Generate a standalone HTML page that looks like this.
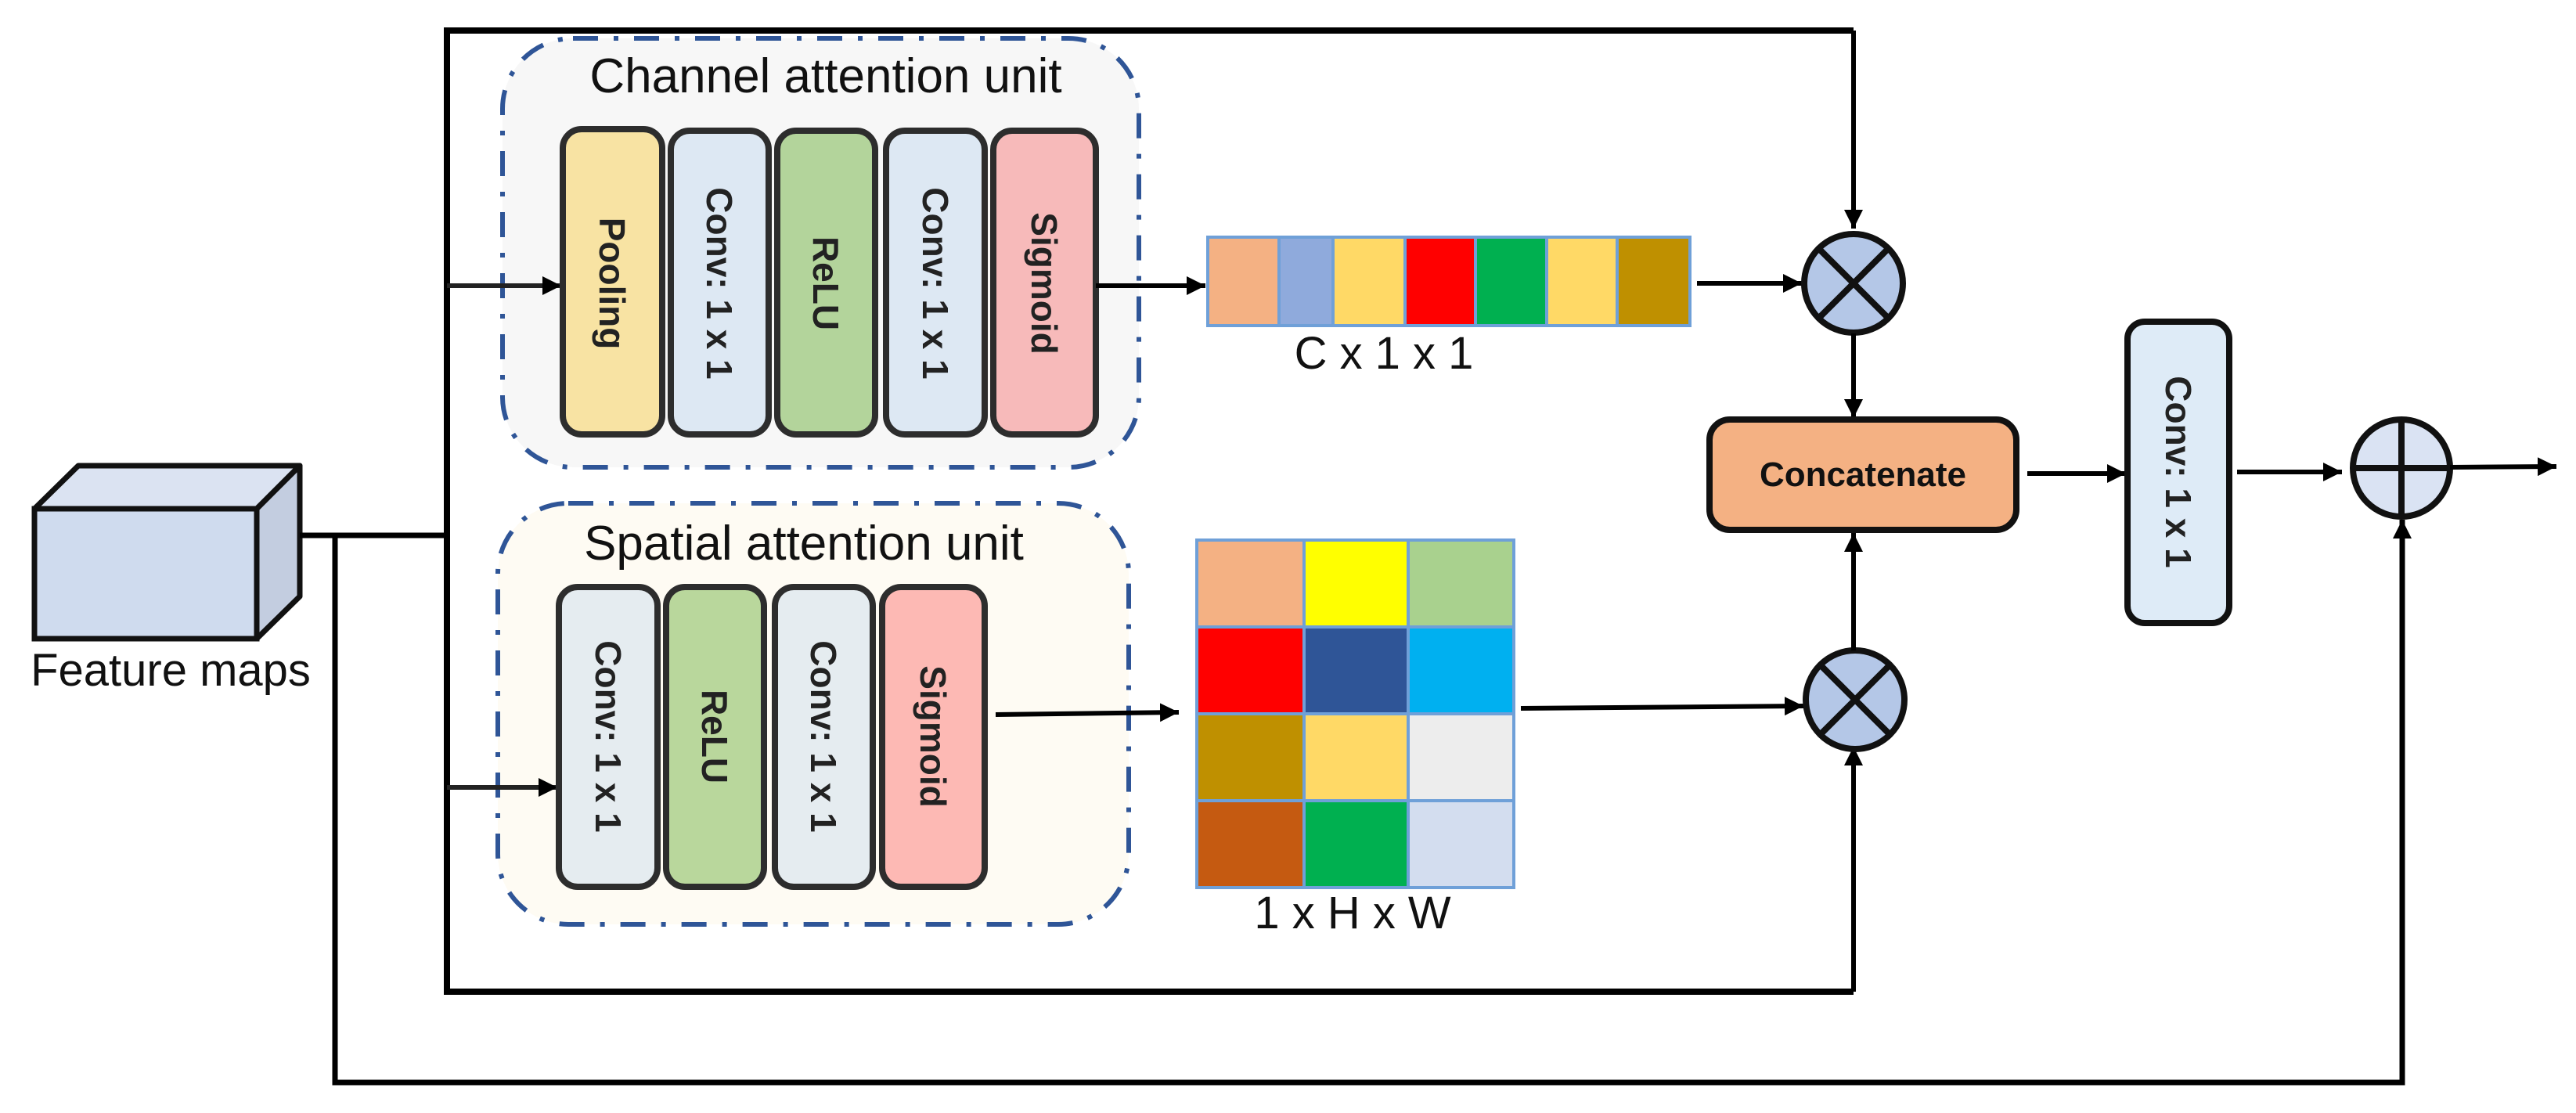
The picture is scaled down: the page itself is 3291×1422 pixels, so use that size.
<!DOCTYPE html>
<html><head><meta charset="utf-8"><style>
html,body{margin:0;padding:0;background:#fff;}
svg{display:block;}
text{font-family:"Liberation Sans",sans-serif;}
</style></head><body>
<svg width="3291" height="1422" viewBox="0 0 3291 1422" xmlns="http://www.w3.org/2000/svg">
<defs>
<marker id="a" viewBox="0 0 10 10" refX="10" refY="5" markerWidth="24" markerHeight="24" markerUnits="userSpaceOnUse" orient="auto"><path d="M0,0 L10,5 L0,10 z" fill="#000"/></marker>
</defs>

<rect x="642" y="49" width="813" height="548" rx="90" fill="#f7f7f7" stroke="#2f5597" stroke-width="6" stroke-dasharray="32 20 6 20"/>
<rect x="636" y="643" width="806" height="538" rx="90" fill="#fefbf3" stroke="#2f5597" stroke-width="6" stroke-dasharray="32 20 6 20"/>

<polyline points="2368,39 571,39 571,1267 2368,1267" fill="none" stroke="#000" stroke-width="8"/>
<line x1="2368" y1="39" x2="2368" y2="292" stroke="#000" stroke-width="6" marker-end="url(#a)"/>
<line x1="2368" y1="1267" x2="2368" y2="954" stroke="#000" stroke-width="6" marker-end="url(#a)"/>

<polygon points="44,650 100,595 383,595 328,650" fill="#dbe3f2" stroke="#111" stroke-width="7" stroke-linejoin="round"/>
<polygon points="328,650 383,595 383,762 328,816" fill="#c3cde0" stroke="#111" stroke-width="7" stroke-linejoin="round"/>
<rect x="44" y="650" width="284" height="166" fill="#cfdbee" stroke="#111" stroke-width="7"/>
<text x="218" y="876" font-size="58" text-anchor="middle" fill="#111">Feature maps</text>

<line x1="383" y1="684" x2="571" y2="684" stroke="#000" stroke-width="7"/>
<polyline points="428,684 428,1383 3069,1383 3069,664" fill="none" stroke="#000" stroke-width="7" marker-end="url(#a)"/>

<text x="1055" y="118" font-size="62" text-anchor="middle" fill="#111">Channel attention unit</text>
<line x1="571" y1="365" x2="717" y2="365" stroke="#222" stroke-width="6" marker-end="url(#a)"/>
<g stroke="#2d2d2d" stroke-width="8">
<rect x="719" y="165" width="127" height="390" rx="24" fill="#f8e3a3"/>
<rect x="857" y="167" width="125" height="388" rx="24" fill="#dde8f3"/>
<rect x="993" y="167" width="125" height="388" rx="24" fill="#b3d49b"/>
<rect x="1132" y="167" width="126" height="388" rx="24" fill="#dde8f3"/>
<rect x="1269" y="167" width="131" height="388" rx="24" fill="#f7baba"/>
</g>
<g font-size="46" font-weight="bold" fill="#222" text-anchor="middle">
<text transform="translate(782,362) rotate(90)" dy="16">Pooling</text>
<text transform="translate(919,362) rotate(90)" dy="16">Conv: 1 x 1</text>
<text transform="translate(1055,362) rotate(90)" dy="16">ReLU</text>
<text transform="translate(1195,362) rotate(90)" dy="16">Conv: 1 x 1</text>
<text transform="translate(1334,362) rotate(90)" dy="16">Sigmoid</text>
</g>
<line x1="1400" y1="365" x2="1540" y2="365" stroke="#000" stroke-width="6" marker-end="url(#a)"/>

<g stroke="#6fa0d8" stroke-width="4">
<rect x="1543" y="303" width="91" height="113" fill="#f4b183"/>
<rect x="1634" y="303" width="69" height="113" fill="#8faadc"/>
<rect x="1703" y="303" width="92" height="113" fill="#ffd966"/>
<rect x="1795" y="303" width="90" height="113" fill="#ff0000"/>
<rect x="1885" y="303" width="91" height="113" fill="#00b050"/>
<rect x="1976" y="303" width="90" height="113" fill="#ffd966"/>
<rect x="2066" y="303" width="93" height="113" fill="#bf9000"/>
</g>
<text x="1768" y="471" font-size="58" text-anchor="middle" fill="#111">C x 1 x 1</text>
<line x1="2168" y1="362" x2="2302" y2="362" stroke="#000" stroke-width="6" marker-end="url(#a)"/>

<circle cx="2368" cy="362" r="63" fill="#b4c7e7" stroke="#111" stroke-width="8"/>
<line x1="2323" y1="317" x2="2413" y2="407" stroke="#111" stroke-width="8"/>
<line x1="2413" y1="317" x2="2323" y2="407" stroke="#111" stroke-width="8"/>
<line x1="2368" y1="426" x2="2368" y2="534" stroke="#000" stroke-width="6" marker-end="url(#a)"/>

<rect x="2184" y="536" width="392" height="141" rx="26" fill="#f4b183" stroke="#111" stroke-width="8"/>
<text x="2380" y="621" font-size="44" font-weight="bold" text-anchor="middle" fill="#111">Concatenate</text>
<line x1="2590" y1="605" x2="2716" y2="605" stroke="#000" stroke-width="6" marker-end="url(#a)"/>

<rect x="2718" y="411" width="130" height="385" rx="22" fill="#deebf7" stroke="#111" stroke-width="8"/>
<text transform="translate(2783,603) rotate(90)" dy="16" font-size="46" font-weight="bold" text-anchor="middle" fill="#222">Conv: 1 x 1</text>
<line x1="2858" y1="603" x2="2992" y2="603" stroke="#000" stroke-width="6" marker-end="url(#a)"/>

<circle cx="3068" cy="598" r="62" fill="#dae3f3" stroke="#111" stroke-width="8"/>
<line x1="3006" y1="598" x2="3130" y2="598" stroke="#111" stroke-width="8"/>
<line x1="3068" y1="536" x2="3068" y2="660" stroke="#111" stroke-width="8"/>
<line x1="3130" y1="597" x2="3266" y2="596" stroke="#000" stroke-width="6" marker-end="url(#a)"/>

<text x="1027" y="715" font-size="62" text-anchor="middle" fill="#111">Spatial attention unit</text>
<line x1="571" y1="1006" x2="712" y2="1006" stroke="#222" stroke-width="6" marker-end="url(#a)"/>
<g stroke="#2d2d2d" stroke-width="8">
<rect x="714" y="750" width="126" height="383" rx="24" fill="#e5ecf0"/>
<rect x="851" y="750" width="125" height="383" rx="24" fill="#b9d79c"/>
<rect x="990" y="750" width="125" height="383" rx="24" fill="#e5ecf0"/>
<rect x="1127" y="750" width="131" height="383" rx="24" fill="#fdb9b4"/>
</g>
<g font-size="46" font-weight="bold" fill="#222" text-anchor="middle">
<text transform="translate(777,941) rotate(90)" dy="16">Conv: 1 x 1</text>
<text transform="translate(913,941) rotate(90)" dy="16">ReLU</text>
<text transform="translate(1052,941) rotate(90)" dy="16">Conv: 1 x 1</text>
<text transform="translate(1192,941) rotate(90)" dy="16">Sigmoid</text>
</g>
<line x1="1272" y1="913" x2="1506" y2="910" stroke="#000" stroke-width="6" marker-end="url(#a)"/>

<g stroke="#6fa0d8" stroke-width="4">
<rect x="1529" y="690" width="137" height="111" fill="#f4b183"/>
<rect x="1666" y="690" width="133" height="111" fill="#ffff00"/>
<rect x="1799" y="690" width="135" height="111" fill="#a9d18e"/>
<rect x="1529" y="801" width="137" height="111" fill="#ff0000"/>
<rect x="1666" y="801" width="133" height="111" fill="#2f5597"/>
<rect x="1799" y="801" width="135" height="111" fill="#00b0f0"/>
<rect x="1529" y="912" width="137" height="111" fill="#bf9000"/>
<rect x="1666" y="912" width="133" height="111" fill="#ffd966"/>
<rect x="1799" y="912" width="135" height="111" fill="#ededed"/>
<rect x="1529" y="1023" width="137" height="111" fill="#c55a11"/>
<rect x="1666" y="1023" width="133" height="111" fill="#00b050"/>
<rect x="1799" y="1023" width="135" height="111" fill="#d3ddef"/>
</g>
<text x="1728" y="1186" font-size="58" text-anchor="middle" fill="#111">1 x H x W</text>
<line x1="1943" y1="905" x2="2304" y2="902" stroke="#000" stroke-width="6" marker-end="url(#a)"/>

<circle cx="2370" cy="894" r="63" fill="#b4c7e7" stroke="#111" stroke-width="8"/>
<line x1="2325" y1="849" x2="2415" y2="939" stroke="#111" stroke-width="8"/>
<line x1="2415" y1="849" x2="2325" y2="939" stroke="#111" stroke-width="8"/>
<line x1="2368" y1="831" x2="2368" y2="681" stroke="#000" stroke-width="6" marker-end="url(#a)"/>
</svg>
</body></html>
